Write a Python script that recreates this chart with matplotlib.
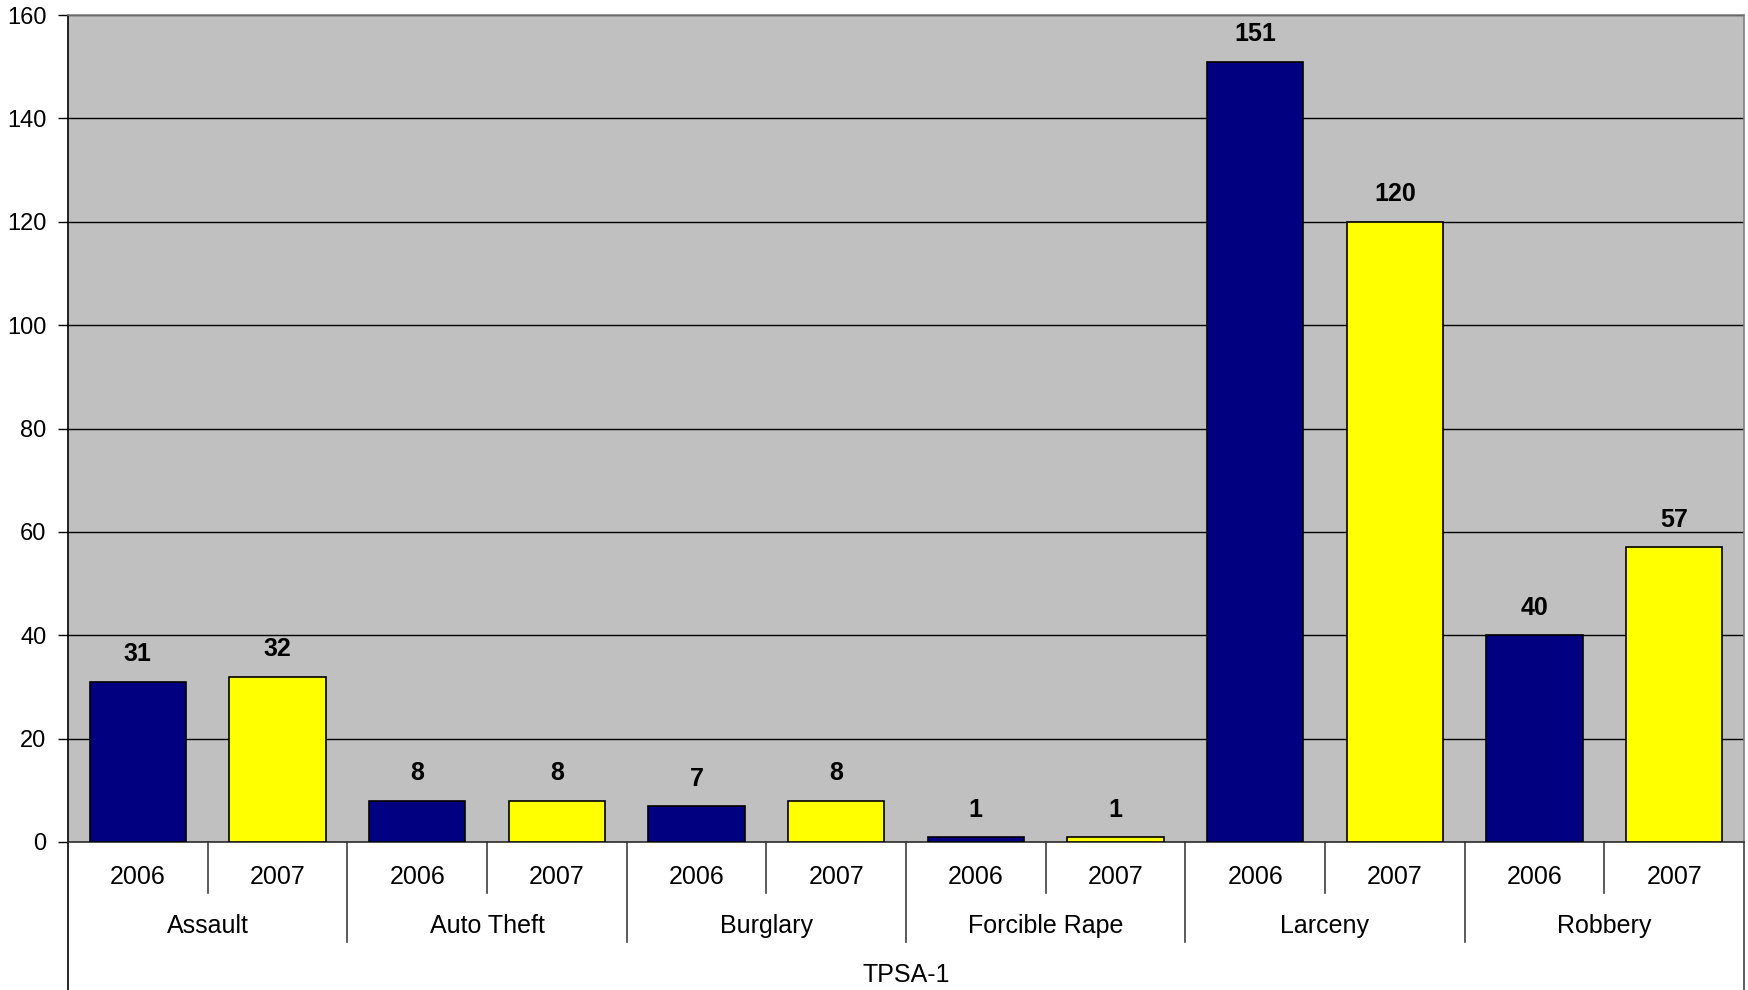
import matplotlib.pyplot as plt
import matplotlib.transforms as mtransforms
import numpy as np

plt.rcParams['font.family'] = ['Liberation Sans', 'DejaVu Sans']

# data
categories = ['Assault', 'Auto Theft', 'Burglary', 'Forcible Rape', 'Larceny', 'Robbery']
years = ['2006', '2007']
v2006 = [31, 8, 7, 1, 151, 40]
v2007 = [32, 8, 8, 1, 120, 57]
group_label = 'TPSA-1'

W, H = 1748, 990
fig = plt.figure(figsize=(W / 100, H / 100), dpi=100)
left, right, top, bottom = 68, 1744, 15, 842
ax = fig.add_axes([left / W, 1 - bottom / H, (right - left) / W, (bottom - top) / H])
ax.set_facecolor('#C0C0C0')

n = len(categories)
x06 = np.arange(n) * 2
x07 = x06 + 1
bw = 0.69
ax.bar(x06, v2006, width=bw, color='#000080', edgecolor='black', linewidth=1.2, zorder=3)
ax.bar(x07, v2007, width=bw, color='#FFFF00', edgecolor='black', linewidth=1.2, zorder=3)

# value labels
for xs, vs in [(x06, v2006), (x07, v2007)]:
    for xi, v in zip(xs, vs):
        ax.annotate(str(v), (xi, v), xytext=(0, 11), textcoords='offset points',
                    ha='center', va='bottom', fontsize=18, fontweight='bold')

ax.set_xlim(-0.5, 2 * n - 0.5)
ax.set_ylim(0, 160)
ax.set_yticks(np.arange(0, 161, 20))
ax.tick_params(axis='y', labelsize=17, length=7, width=1, direction='out', pad=8.5)
ax.set_xticks([])
ax.yaxis.grid(True, color='black', linewidth=1)
ax.set_axisbelow(True)

ax.spines['left'].set_color('black')
ax.spines['bottom'].set_color('#303030')
ax.spines['top'].set_color('#808080')
ax.spines['right'].set_color('#808080')
for s in ax.spines.values():
    s.set_linewidth(1.2)

# multi-level category axis
trans = mtransforms.blended_transform_factory(ax.transData, fig.transFigure)
def fy(px):
    return 1 - px / H

for xi in range(2 * n):
    ax.text(xi, fy(877), years[xi % 2], transform=trans, ha='center', va='center', fontsize=18)
for i, c in enumerate(categories):
    ax.text(2 * i + 0.5, fy(926), c, transform=trans, ha='center', va='center', fontsize=18)
ax.text(n - 0.5, fy(975), group_label, transform=trans, ha='center', va='center', fontsize=18)

for i in range(n):
    xs = 2 * i + 0.5
    ax.plot([xs, xs], [fy(842), fy(893)], transform=trans, color='#404040', lw=1.2, clip_on=False)
for i in range(1, n):
    xs = 2 * i - 0.5
    ax.plot([xs, xs], [fy(842), fy(942)], transform=trans, color='#404040', lw=1.2, clip_on=False)
ax.plot([-0.5, -0.5], [fy(842), 0], transform=trans, color='black', lw=1.2, clip_on=False)
ax.plot([2 * n - 0.5, 2 * n - 0.5], [fy(842), 0], transform=trans, color='#404040', lw=1.2, clip_on=False)

fig.savefig('out.png', dpi=100)
